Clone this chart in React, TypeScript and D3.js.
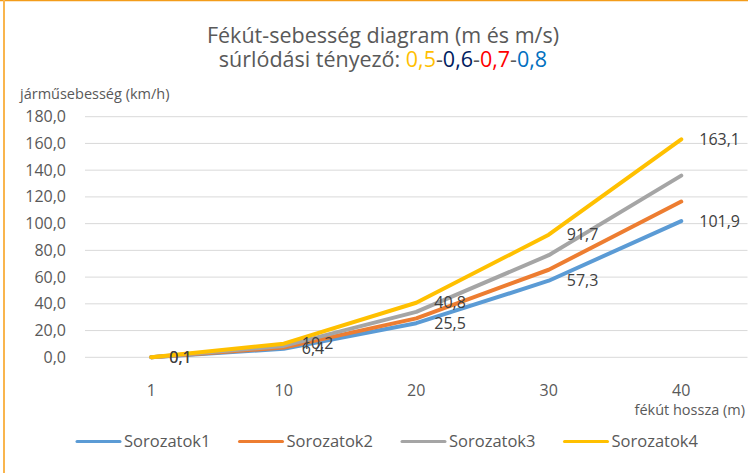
import { useMemo } from 'react';
import * as d3 from 'd3';

const WIDTH = 748;
const HEIGHT = 473;
const MARGIN = { top: 116.7, right: 0.5, bottom: 115.7, left: 85 };

const FONT = '"Open Sans", "Noto Sans", sans-serif';
const TEXT_GRAY = '#595959';
const LABEL_GRAY = '#404040';

const categories = ['1', '10', '20', '30', '40'];
const seriesNames = ['Sorozatok1', 'Sorozatok2', 'Sorozatok3', 'Sorozatok4'];
const seriesColors = ['#5B9BD5', '#ED7D31', '#A5A5A5', '#FFC000'];
const series1 = [0.06, 6.4, 25.5, 57.3, 101.9];
const series2 = [0.07, 7.3, 29.1, 65.5, 116.5];
const series3 = [0.09, 8.5, 34.0, 76.4, 135.9];
const series4 = [0.1, 10.2, 40.8, 91.7, 163.1];
const yTicks = [0, 20, 40, 60, 80, 100, 120, 140, 160, 180];
// only the first and last series carry data labels
const labelledSeries = [0, 3];

const titleLine1 = 'Fékút-sebesség diagram (m és m/s)';
const titleLine2 = [
  { text: 'súrlódási tényező: ', color: TEXT_GRAY },
  { text: '0,5', color: '#FFC000' },
  { text: '-', color: TEXT_GRAY },
  { text: '0,6', color: '#002060' },
  { text: '-', color: TEXT_GRAY },
  { text: '0,7', color: '#FF0000' },
  { text: '-', color: TEXT_GRAY },
  { text: '0,8', color: '#0070C0' },
];

const fmt = (v: number) => v.toFixed(1).replace('.', ',');

const App = () => {
  const boundsWidth = WIDTH - MARGIN.left - MARGIN.right;
  const boundsHeight = HEIGHT - MARGIN.top - MARGIN.bottom;
  const allSeries = [series1, series2, series3, series4];

  const xScale = useMemo(() => {
    return d3.scalePoint().domain(categories).range([0, boundsWidth]).padding(0.5);
  }, [boundsWidth]);

  const yScale = useMemo(() => {
    return d3.scaleLinear().domain([0, 180]).range([boundsHeight, 0]);
  }, [boundsHeight]);

  const lineGen = d3
    .line<number>()
    .x((_, i) => xScale(categories[i]) as number)
    .y(d => yScale(d));

  const gridLines = yTicks.map(t => (
    <line
      key={`grid-${t}`}
      x1={0}
      x2={boundsWidth}
      y1={yScale(t)}
      y2={yScale(t)}
      stroke="#D9D9D9"
      strokeWidth={1}
    />
  ));

  const yLabels = yTicks.map(t => (
    <text
      key={`ylab-${t}`}
      x={-19}
      y={yScale(t)}
      dy="0.35em"
      textAnchor="end"
      fontSize={16}
      fill={TEXT_GRAY}
    >
      {fmt(t)}
    </text>
  ));

  const xLabels = categories.map(c => (
    <text
      key={`xlab-${c}`}
      x={xScale(c)}
      y={boundsHeight + 33}
      dy="0.35em"
      textAnchor="middle"
      fontSize={16}
      fill={TEXT_GRAY}
    >
      {c}
    </text>
  ));

  const lines = allSeries.map((s, i) => (
    <path
      key={`line-${i}`}
      d={lineGen(s) || ''}
      fill="none"
      stroke={seriesColors[i]}
      strokeWidth={4}
      strokeLinecap="round"
      strokeLinejoin="round"
    />
  ));

  const dataLabels = labelledSeries.map(si =>
    allSeries[si].map((v, i) => (
      <text
        key={`dl-${si}-${i}`}
        x={(xScale(categories[i]) as number) + 18}
        y={yScale(v)}
        dy="0.35em"
        fontSize={16}
        fill={LABEL_GRAY}
      >
        {fmt(v)}
      </text>
    ))
  );

  const legendStart = 77;
  const legendStep = 162.5;
  const legendY = 441.5;
  const legend = seriesNames.map((name, i) => {
    const x0 = legendStart + i * legendStep;
    return (
      <g key={`leg-${name}`}>
        <line
          x1={x0}
          x2={x0 + 43}
          y1={legendY}
          y2={legendY}
          stroke={seriesColors[i]}
          strokeWidth={3}
          strokeLinecap="round"
        />
        <text x={x0 + 47} y={legendY} dy="0.35em" fontSize={16.5} fill={TEXT_GRAY}>
          {name}
        </text>
      </g>
    );
  });

  return (
    <svg
      width={WIDTH}
      height={HEIGHT}
      style={{ position: 'absolute', left: 0, top: 0, display: 'block', background: '#fff' }}
      fontFamily={FONT}
    >
      <rect x={0} y={0} width={WIDTH} height={HEIGHT} fill="#fff" />
      <line x1={0} x2={WIDTH} y1={0.5} y2={0.5} stroke="#F39C1A" strokeWidth={1.5} />
      <line x1={4} x2={4} y1={0} y2={HEIGHT} stroke="#F9B54E" strokeWidth={2} />

      <text x={383} y={43} textAnchor="middle" fontSize={21.5} fill={TEXT_GRAY}>
        {titleLine1}
      </text>
      <text x={383} y={67} textAnchor="middle" fontSize={21.5} fill={TEXT_GRAY}>
        {titleLine2.map((p, i) => (
          <tspan key={`t2-${i}`} fill={p.color}>
            {p.text}
          </tspan>
        ))}
      </text>

      <text x={20} y={94} dy="0.35em" fontSize={14.5} fill={TEXT_GRAY}>
        járműsebesség (km/h)
      </text>
      <text x={745} y={410} dy="0.35em" textAnchor="end" fontSize={14.5} fill={TEXT_GRAY}>
        fékút hossza (m)
      </text>

      <g transform={`translate(${[MARGIN.left, MARGIN.top].join(',')})`}>
        {gridLines}
        {yLabels}
        {xLabels}
        {lines}
        {dataLabels}
      </g>
      {legend}
    </svg>
  );
};

export default App;
